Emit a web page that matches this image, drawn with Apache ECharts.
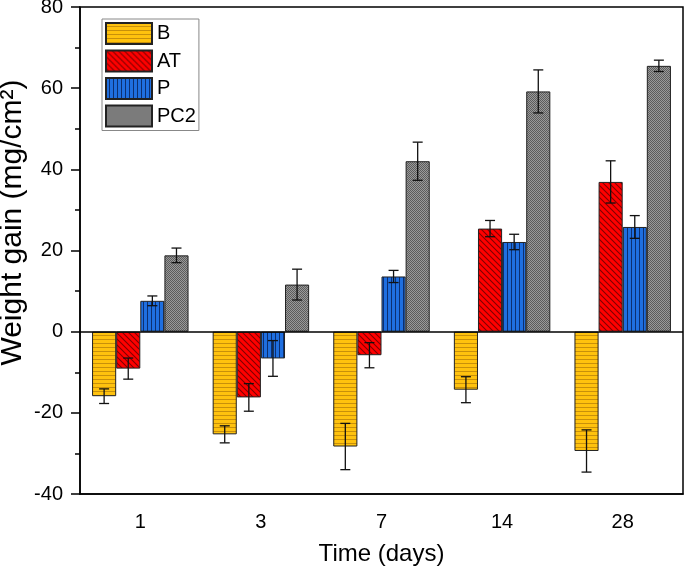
<!DOCTYPE html>
<html>
<head>
<meta charset="utf-8">
<script src="https://cdn.jsdelivr.net/npm/echarts@6/dist/echarts.min.js"></script>
<style>
  html, body { margin: 0; padding: 0; background: #fff; }
  #chart { width: 685px; height: 571px; }
</style>
</head>
<body>
<div id="chart"></div>
<script>
  const days = ["1", "3", "7", "14", "28"];
  const seriesNames = ["B", "AT", "P", "PC2"];

  const bMean = [-15.9, -25.3, -28.3, -14.3, -29.4];
  const bErr = [1.8, 2.1, 5.7, 3.2, 5.2];
  const atMean = [-9.1, -16.2, -5.8, 25.4, 36.9];
  const atErr = [2.6, 3.4, 3.1, 2.0, 5.2];
  const pMean = [7.6, -6.6, 13.6, 22.1, 25.8];
  const pErr = [1.2, 4.4, 1.5, 1.9, 2.8];
  const pc2Mean = [18.8, 11.6, 42.0, 59.2, 65.5];
  const pc2Err = [1.8, 3.8, 4.7, 5.3, 1.4];

  const means = [bMean, atMean, pMean, pc2Mean];
  const errs = [bErr, atErr, pErr, pc2Err];

  const font = '"Liberation Sans", Arial, sans-serif';

  function pattern(w, h, draw) {
    const c = document.createElement("canvas");
    c.width = w;
    c.height = h;
    draw(c.getContext("2d"), w, h);
    return { image: c, repeat: "repeat" };
  }

  const fills = [
    pattern(4, 4, (ctx, w, h) => {
      ctx.fillStyle = "#ffc20e";
      ctx.fillRect(0, 0, w, h);
      ctx.strokeStyle = "#c8900a";
      ctx.lineWidth = 1;
      ctx.beginPath();
      ctx.moveTo(0, 3.5);
      ctx.lineTo(w, 3.5);
      ctx.stroke();
    }),
    pattern(6, 6, (ctx, w, h) => {
      ctx.fillStyle = "#ff0000";
      ctx.fillRect(0, 0, w, h);
      ctx.strokeStyle = "#800000";
      ctx.lineWidth = 1.1;
      ctx.beginPath();
      ctx.moveTo(-1, -1);
      ctx.lineTo(w + 1, h + 1);
      ctx.moveTo(-1, h - 1);
      ctx.lineTo(1, h + 1);
      ctx.moveTo(w - 1, -1);
      ctx.lineTo(w + 1, 1);
      ctx.stroke();
    }),
    pattern(4, 4, (ctx, w, h) => {
      ctx.fillStyle = "#1f6fe0";
      ctx.fillRect(0, 0, w, h);
      ctx.strokeStyle = "#0c2f70";
      ctx.lineWidth = 1;
      ctx.beginPath();
      ctx.moveTo(3.5, 0);
      ctx.lineTo(3.5, h);
      ctx.stroke();
    }),
    pattern(2, 2, (ctx) => {
      ctx.fillStyle = "#9a9a9a";
      ctx.fillRect(0, 0, 2, 2);
      ctx.fillStyle = "#5c5c5c";
      ctx.fillRect(0, 0, 1, 1);
      ctx.fillRect(1, 1, 1, 1);
    }),
  ];

  function errorSeries(idx) {
    return {
      type: "custom",
      name: seriesNames[idx] + " err",
      silent: true,
      z: 5,
      data: means[idx].map((m, i) => [i, m, errs[idx][i]]),
      encode: { x: 0, y: 1 },
      renderItem(params, api) {
        const i = api.value(0);
        const m = api.value(1);
        const e = api.value(2);
        const band = api.size([1, 0])[0];
        const off = (idx - 1.5) * band * 0.2;
        const top = api.coord([i, m + e]);
        const bot = api.coord([i, m - e]);
        const cx = top[0] + off;
        const hw = 5;
        const style = { stroke: "#111", lineWidth: 1.3 };
        return {
          type: "group",
          children: [
            { type: "line", shape: { x1: cx, y1: top[1], x2: cx, y2: bot[1] }, style },
            { type: "line", shape: { x1: cx - hw, y1: top[1], x2: cx + hw, y2: top[1] }, style },
            { type: "line", shape: { x1: cx - hw, y1: bot[1], x2: cx + hw, y2: bot[1] }, style },
          ],
        };
      },
    };
  }

  const barSeries = seriesNames.map((name, idx) => ({
    name,
    type: "bar",
    barWidth: "20%",
    barGap: "0%",
    itemStyle: { color: fills[idx], borderColor: "#222", borderWidth: 1 },
    data: means[idx],
    markLine:
      idx === 3
        ? {
            silent: true,
            symbol: "none",
            label: { show: false },
            lineStyle: { color: "#000", width: 1.5, type: "solid" },
            data: [{ yAxis: 0 }],
          }
        : undefined,
  }));

  const chart = echarts.init(document.getElementById("chart"));
  chart.setOption({
    animation: false,
    backgroundColor: "#fff",
    textStyle: { fontFamily: font },
    grid: {
      left: 80,
      right: 2,
      top: 7,
      bottom: 77,
      outerBoundsMode: "none",
      containLabel: false,
      show: true,
      borderColor: "#000",
      borderWidth: 1.5,
      backgroundColor: "transparent",
    },
    legend: {
      data: seriesNames,
      orient: "vertical",
      left: 102,
      top: 19,
      icon: "rect",
      itemWidth: 46,
      itemHeight: 21,
      itemGap: 4.5,
      padding: 3,
      borderColor: "#888",
      borderWidth: 1,
      textStyle: { fontSize: 20, lineHeight: 21, color: "#000", fontFamily: font },
    },
    xAxis: {
      type: "category",
      data: days,
      name: "Time (days)",
      nameLocation: "middle",
      nameGap: 48,
      nameMoveOverlap: false,
      nameTextStyle: { fontSize: 24, color: "#000", fontFamily: font },
      axisLine: { onZero: false, lineStyle: { color: "#000", width: 1.5 } },
      axisTick: { alignWithLabel: true, length: 9, lineStyle: { color: "#000", width: 1.5 } },
      axisLabel: { fontSize: 20, color: "#000", margin: 18, fontFamily: font },
      splitLine: { show: false },
    },
    yAxis: {
      type: "value",
      min: -40,
      max: 80,
      interval: 20,
      name: "Weight gain (mg/cm²)",
      nameLocation: "middle",
      nameGap: 52,
      nameMoveOverlap: false,
      nameTextStyle: { fontSize: 30, color: "#000", fontFamily: font, padding: [0, 0, 0, 56] },
      axisLine: { show: true, lineStyle: { color: "#000", width: 1.5 } },
      axisTick: { show: true, length: 9, lineStyle: { color: "#000", width: 1.5 } },
      minorTick: { show: true, splitNumber: 2, length: 5, lineStyle: { color: "#000", width: 1.5 } },
      axisLabel: { fontSize: 20, color: "#000", margin: 17, fontFamily: font },
      splitLine: { show: false },
    },
    series: [...barSeries, ...seriesNames.map((_, idx) => errorSeries(idx))],
  });
</script>
</body>
</html>
